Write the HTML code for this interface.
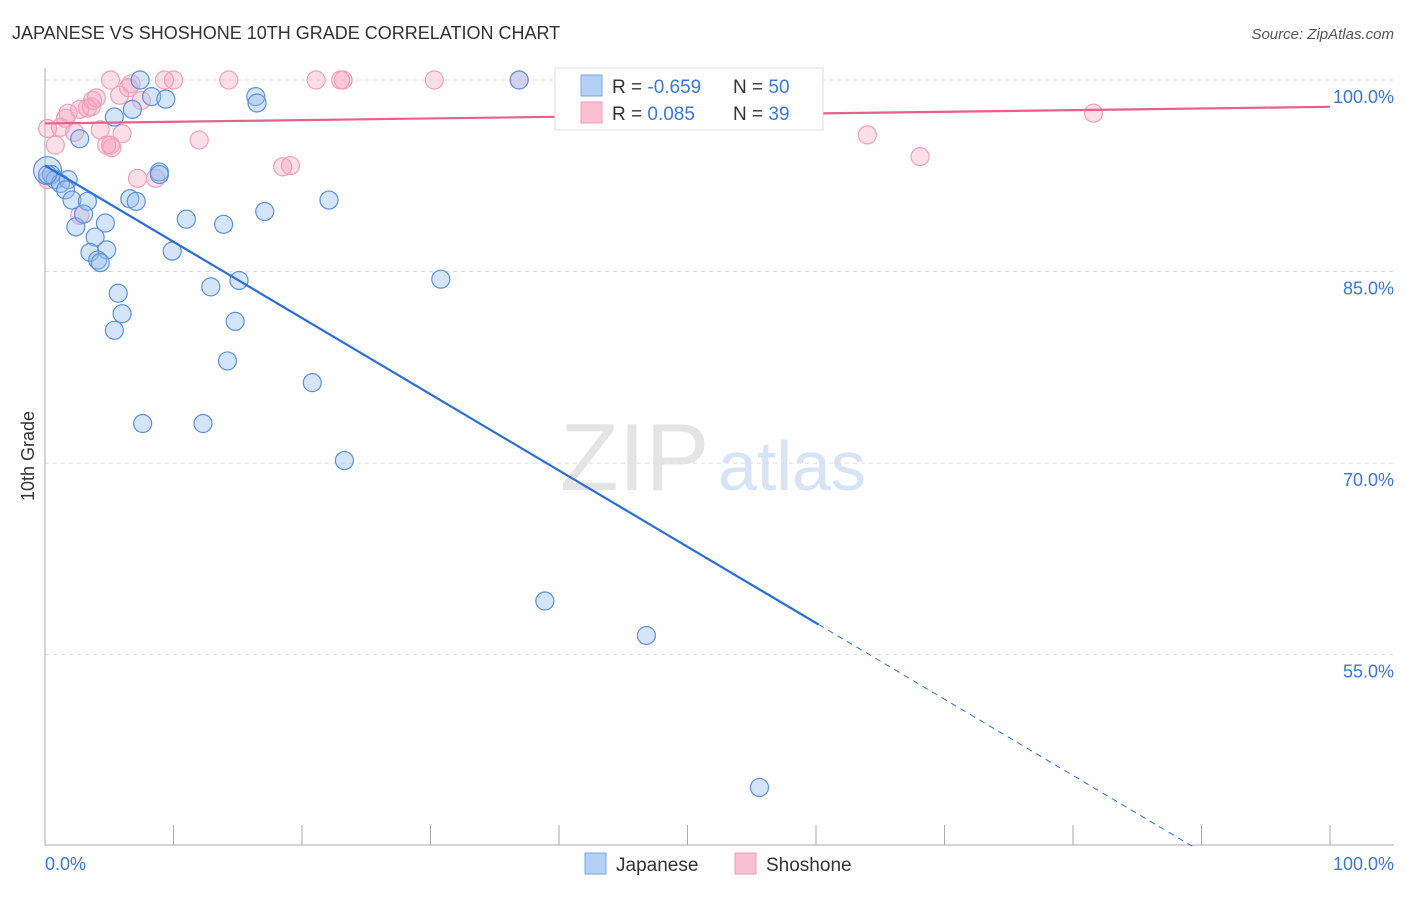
<!DOCTYPE html>
<html><head><meta charset="utf-8"><style>
body{margin:0;background:#fff;font-family:"Liberation Sans",sans-serif}
svg text{font-family:"Liberation Sans",sans-serif}
</style></head><body>
<svg width="1406" height="892" id="c">
<text x="12" y="39" font-size="18" fill="#333">JAPANESE VS SHOSHONE 10TH GRADE CORRELATION CHART</text>
<text x="1394" y="39" font-size="15" fill="#555" font-style="italic" text-anchor="end">Source: ZipAtlas.com</text>
<text x="560" y="490" font-size="96" fill="#e4e4e4" font-family="Liberation Serif">ZIP</text>
<text x="718" y="490" font-size="70" fill="#d6e4f5">atlas</text>
<text transform="translate(34,456) rotate(-90)" font-size="18" fill="#333" text-anchor="middle">10th Grade</text>
<g id="grid"></g><g id="pts"></g><g id="lines"></g>
<g>
<rect x="555" y="68" width="268" height="62" fill="#fff" stroke="#ddd"/>
<rect x="581" y="75" width="21" height="21" fill="#b5d0f5" stroke="#7aa6e8"/>
<rect x="581" y="102" width="21" height="21" fill="#f8c0d0" stroke="#f09ab5"/>
<text x="612" y="93" font-size="19" fill="#333">R = <tspan fill="#3a78d8">-0.659</tspan></text>
<text x="733" y="93" font-size="19" fill="#333">N = <tspan fill="#3a78d8">50</tspan></text>
<text x="612" y="120" font-size="19" fill="#333">R = <tspan fill="#3a78d8"> 0.085</tspan></text>
<text x="733" y="120" font-size="19" fill="#333">N = <tspan fill="#3a78d8"> 39</tspan></text>
</g>
<g>
<rect x="585" y="853" width="21" height="21" fill="#b5d0f5" stroke="#7aa6e8"/>
<text x="616" y="871" font-size="19" fill="#333">Japanese</text>
<rect x="735" y="853" width="21" height="21" fill="#f8c0d0" stroke="#f09ab5"/>
<text x="766" y="871" font-size="19" fill="#333">Shoshone</text>
</g>
<text x="45" y="870" font-size="18" fill="#3a78d8">0.0%</text>
<text x="1394" y="870" font-size="18" fill="#3a78d8" text-anchor="end">100.0%</text>
</svg>
<script>
const yTicks=[100,85,70,55];
const xTicks=[0,10,20,30,40,50,60,70,80,90,100];
const japX=[0.2,0.5,0.8,1.2,1.8,1.6,2.1,3.3,2.4,3.0,3.9,4.7,4.8,3.5,4.1,4.3,5.7,6.0,5.4,2.7,5.4,6.8,7.4,8.3,9.4,16.4,16.5,6.6,7.1,8.9,8.9,11.0,9.9,13.9,17.1,12.9,15.1,14.8,14.2,7.6,12.3,20.8,23.3,22.1,30.8,36.9,38.9,46.8,55.6,0.2];
const japY=[92.9,92.6,92.2,91.9,92.2,91.4,90.6,90.5,88.5,89.5,87.7,88.8,86.7,86.5,85.9,85.7,83.3,81.7,80.4,95.4,97.1,97.7,100,98.7,98.5,98.7,98.2,90.7,90.5,92.8,92.6,89.1,86.6,88.7,89.7,83.8,84.3,81.1,78.0,73.1,73.1,76.3,70.2,90.6,84.4,100,59.2,56.5,44.6,92.6];
const shoX=[0.2,0.8,1.2,1.6,1.8,2.3,2.7,3.3,3.6,3.7,4.0,4.3,4.8,5.2,5.1,5.8,6.0,6.5,6.7,7.2,7.5,8.6,9.3,10.0,12.0,14.3,18.5,19.1,21.1,23.0,23.2,30.3,36.9,64.0,68.1,81.6,0.2,2.7,5.1];
const shoY=[96.2,94.9,96.3,97.0,97.4,95.9,89.4,97.8,97.9,98.4,98.6,96.1,94.9,94.7,100,98.8,95.8,99.4,99.7,92.3,98.4,92.3,100,100,95.3,100,93.2,93.3,100,100,100,100,100,95.7,94.0,97.4,92.2,97.7,94.9];
const japTrend=[93.3,-0.597];
const shoTrend=[96.6,0.013];
const X=v=>45+v*12.85, Y=v=>80+(100-v)*12.77;
const NS='http://www.w3.org/2000/svg';
function mk(t,a,p){const e=document.createElementNS(NS,t);for(const k in a)e.setAttribute(k,a[k]);p.appendChild(e);return e;}
const g=document.getElementById('grid');
yTicks.forEach(t=>{
 const l=mk('line',{x1:45,x2:1394,y1:Y(t),y2:Y(t),stroke:'#ddd','stroke-dasharray':'4,4'},g);
 
 
 const tx=mk('text',{x:1394,y:Y(t)+23,'font-size':18,fill:'#3a78d8','text-anchor':'end'},g);
 tx.textContent=t.toFixed(1)+'%';
 
 
});
const ax=mk('line',{x1:45,x2:1394,y1:845,y2:845,stroke:'#aaa'},g);


const ay=mk('line',{x1:45,x2:45,y1:68,y2:845,stroke:'#aaa'},g);


xTicks.forEach(t=>{
 const l=mk('line',{x1:X(t),x2:X(t),y1:825,y2:845,stroke:'#aaa'},g);
 
 
});
const p=document.getElementById('pts');
shoX.forEach((x,i)=>{
 const c=mk('circle',{cx:X(x),cy:Y(shoY[i]),r:9,fill:'rgba(245,160,188,0.35)',stroke:'#f0a0b8','stroke-width':1.2},p);
 
 
});
japX.forEach((x,i)=>{
 const c=mk('circle',{cx:X(x),cy:Y(japY[i]),r:i==0?14:9,fill:'rgba(150,190,240,0.4)',stroke:'#5b90e0','stroke-width':1.2},p);
 
 
});
const L=document.getElementById('lines');
const solidEnd=60.2, dashEnd=(40-japTrend[0])/japTrend[1];
const l1=mk('line',{x1:X(0),y1:Y(japTrend[0]),x2:X(solidEnd),y2:Y(japTrend[0]+japTrend[1]*solidEnd),stroke:'#2a6fd6','stroke-width':2.2},L);


const l2=mk('line',{x1:X(solidEnd),y1:Y(japTrend[0]+japTrend[1]*solidEnd),x2:X(dashEnd),y2:Y(40),stroke:'#2a6fd6','stroke-width':1,'stroke-dasharray':'6,5'},L);


const l3=mk('line',{x1:X(0),y1:Y(shoTrend[0]),x2:X(100),y2:Y(shoTrend[0]+shoTrend[1]*100),stroke:'#e8608a','stroke-width':2.2},L);


</script>
</body></html>
